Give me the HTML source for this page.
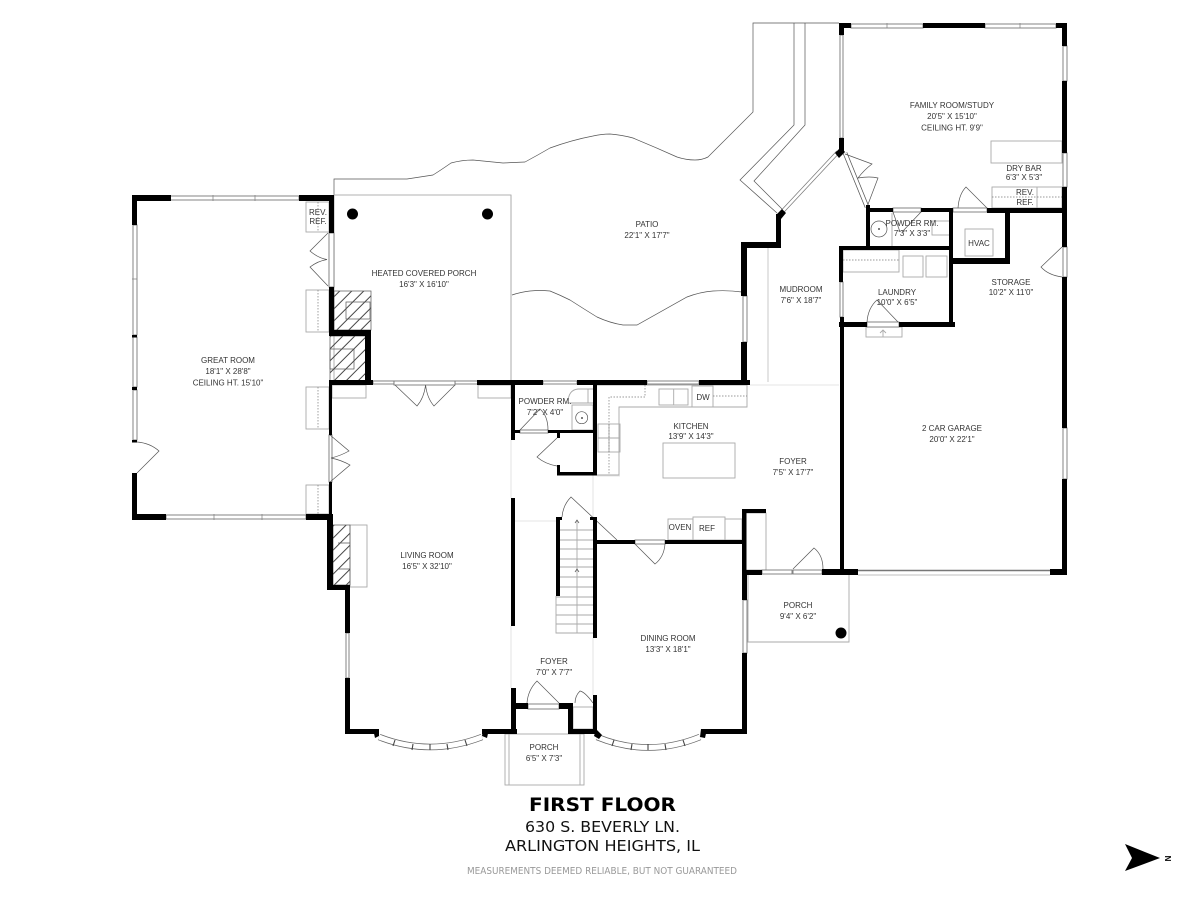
<!DOCTYPE html>
<html lang="en">
<head>
<meta charset="utf-8">
<title>First Floor</title>
<style>
html,body{margin:0;padding:0;background:#fff;width:1200px;height:900px;overflow:hidden}
svg{display:block}
text{font-family:"Liberation Sans",sans-serif;font-size:8px;fill:#333;text-anchor:middle}
.t{font-family:"DejaVu Sans",sans-serif;fill:#111}
.k rect{fill:#000;stroke:none}
.w rect{fill:#fff;stroke:#777;stroke-width:.9}
.w line{stroke:#888;stroke-width:.8}
.n{fill:none;stroke:#555;stroke-width:.7}
.g{fill:none;stroke:#aaa;stroke-width:.9}
.d{fill:none;stroke:#777;stroke-width:.7;stroke-dasharray:1.5 1.5}
.b{fill:#fff;stroke:#aaa;stroke-width:.9}
.l{fill:none;stroke:#ddd;stroke-width:.8}
</style>
</head>
<body>
<svg xmlns="http://www.w3.org/2000/svg" width="1200" height="900" viewBox="0 0 1200 900">
<defs>
<pattern id="h" width="8.500" height="8.500" patternUnits="userSpaceOnUse" patternTransform="rotate(45)">
<line x1="4" y1="0" x2="4" y2="8.500" stroke="#333" stroke-width=".9"/>
</pattern>
</defs>
<rect width="1200" height="900" fill="#fff"/>

<!-- outdoor outlines -->
<path class="n" d="M334 195V179H407L433 175Q441 170 451 163Q462 160 473 160L503 163L525 162Q538 155 550 148Q572 140 593 136Q602 134 610 134Q622 135 633 138Q655 147 677 157Q686 160 695 160Q702 160 708 157L753 112V23H839"/>
<path class="n" d="M512 295Q521 292 530 291Q540 290 550 291Q560 295 570 300Q584 309 597 317Q610 323 623 325H637L687 297Q700 292 713 291Q728 290 742 292"/>
<path class="n" d="M794 23V125L740 180L777 213"/>
<path class="n" d="M805 23V125L754 181L783 210"/>
<rect class="g" x="334" y="195" width="177" height="186"/>
<line class="g" x1="511" y1="195" x2="511" y2="381"/>

<!-- light lines -->
<path class="l" d="M593 475V517M593 638V695M515 521H556M511 440V498M511 626V688M750 385H839M597 476H620"/>
<line x1="768" y1="247" x2="768" y2="382" stroke="#bbb" stroke-width=".8"/>

<!-- cabinets & fixtures -->
<g class="b">
<rect x="306" y="202" width="23" height="30"/>
<rect x="306" y="290" width="23" height="42"/>
<rect x="306" y="387" width="23" height="42"/>
<rect x="306" y="485" width="23" height="29"/>
<rect x="332" y="385" width="34" height="13"/>
<rect x="478" y="385" width="33" height="13"/>
<rect x="350" y="525" width="17" height="62"/>
<rect x="991" y="141" width="71" height="22"/>
<rect x="992" y="187" width="70" height="21"/>
<rect x="663" y="443" width="72" height="35"/>
<rect x="668" y="519" width="25" height="21"/>
<rect x="693" y="517" width="32" height="23"/>
<rect x="725" y="519" width="17" height="21"/>
<rect x="746" y="513" width="20" height="57"/>
<rect x="692" y="386" width="21" height="21"/>
<rect x="843" y="250" width="56" height="22"/>
<rect x="903" y="256" width="20" height="21"/>
<rect x="926" y="256" width="21" height="21"/>
<rect x="965" y="229" width="28" height="27"/>
<rect x="866" y="327" width="36" height="10"/>
<rect x="659" y="389" width="29" height="16"/>
<rect x="572" y="405" width="21" height="25"/>
<rect x="598" y="424" width="22" height="28"/>
<rect x="932" y="221" width="18" height="14"/>
</g>
<path class="g" d="M597 385H747V407H619V475H597"/>
<path class="g" d="M568 403Q568 390 578 389H593M568 403H593M673.7 389V405M588 389V403M1037 187V208M892 213V246M598 438H620M609 424V452M883 337V330M880 333L883 330L886 333"/>
<circle class="n" cx="581.7" cy="417.7" r="6"/>
<circle class="n" cx="879" cy="229" r="8"/>
<circle cx="879" cy="229" r="1" fill="#555"/>
<circle cx="582" cy="418" r="1" fill="#555"/>
<path class="d" d="M318 202V232M318 290V332M318 387V429M318 485V514M645 385V397H609V475M713 396H747M843 260H899M992 197H1062M575 722H593"/>

<!-- fireplaces -->
<g stroke="#555" stroke-width=".7">
<rect x="334" y="291" width="37" height="39" fill="url(#h)"/>
<rect x="346" y="302" width="24" height="17" fill="none"/>
<rect x="330" y="336" width="36" height="45" fill="url(#h)"/>
<rect x="330" y="349" width="24" height="20" fill="none"/>
<rect x="333" y="525" width="17" height="60" fill="url(#h)"/>
<path d="M338 543H350M338 569H350"/>
</g>

<!-- stairs -->
<g class="g">
<path d="M556 596V633H593M577 520V633"/>
<path d="M560 530H593M560 540H593M560 549H593M560 559H593M560 567H593M560 577H593M556 587H593M556 597H593M556 605H593M556 615H593M556 624H593"/>
<path d="M575 523L577 520L579 523M575 572L577 569L579 572" class="n"/>
</g>
<rect class="b" x="573" y="707" width="20" height="22"/>

<!-- porches -->
<rect class="g" x="505" y="734" width="79" height="51"/>
<path class="g" d="M509 734V785M580 734V785"/>
<path class="g" d="M748 575V642H849V575"/>

<!-- windows -->
<g class="w">
<rect x="170" y="196" width="129" height="4"/><line x1="213" y1="195" x2="213" y2="201"/><line x1="255" y1="195" x2="255" y2="201"/>
<rect x="133" y="225" width="4" height="110"/><line x1="132" y1="279" x2="137" y2="279"/>
<rect x="133" y="337" width="4" height="50"/>
<rect x="133" y="390" width="4" height="50"/>
<rect x="166" y="515" width="140" height="4"/><line x1="214" y1="514" x2="214" y2="520"/><line x1="262" y1="514" x2="262" y2="520"/>
<rect x="373" y="381" width="21" height="3"/>
<rect x="455" y="381" width="23" height="3"/>
<rect x="394" y="381" width="61" height="4"/>
<rect x="329" y="233" width="5" height="54"/>
<rect x="329" y="435" width="3" height="47"/>
<rect x="346" y="633" width="3" height="45"/>
<rect x="528" y="704" width="31" height="5"/>
<rect x="520" y="430" width="28" height="3"/>
<rect x="543" y="381" width="34" height="3"/>
<rect x="647" y="381" width="52" height="3"/>
<rect x="635" y="540" width="30" height="4"/>
<rect x="743" y="600" width="4" height="53"/>
<rect x="762" y="570" width="30" height="4"/>
<rect x="793" y="570" width="29" height="4"/>
<rect x="743" y="296" width="4" height="46"/>
<rect x="851" y="24" width="72" height="4"/><line x1="887" y1="23" x2="887" y2="28"/>
<rect x="985" y="24" width="71" height="4"/><line x1="1020" y1="23" x2="1020" y2="28"/>
<rect x="1063" y="46" width="4" height="35"/>
<rect x="1063" y="153" width="4" height="34"/>
<rect x="1063" y="428" width="4" height="51"/>
<rect x="840" y="35" width="3" height="103"/>
<rect x="893" y="208" width="28" height="4"/>
<rect x="953" y="208" width="34" height="4"/>
<rect x="840" y="282" width="3" height="35"/>
<rect x="867" y="322" width="32" height="5"/>
<rect x="1063" y="247" width="4" height="30"/>
</g>
<line x1="858" y1="570.5" x2="1050" y2="570.5" stroke="#777" stroke-width="1.5"/>
<line x1="858" y1="575" x2="1050" y2="575" stroke="#aaa" stroke-width=".8"/>

<!-- diagonal & curved windows -->
<path d="M781 213L838 152" stroke="#777" stroke-width="4" fill="none"/>
<path d="M781 213L838 152" stroke="#fff" stroke-width="2.6" fill="none"/>
<path d="M845 153L867 207" stroke="#555" stroke-width="4.5" fill="none"/>
<path d="M845 153L867 207" stroke="#fff" stroke-width="3" fill="none"/>
<path d="M379 737Q430 757 482 737" stroke="#666" stroke-width="6.500" fill="none"/>
<path d="M379 737Q430 757 482 737" stroke="#fff" stroke-width="5" fill="none"/>
<path d="M597 737Q648 758 700 737" stroke="#666" stroke-width="6.500" fill="none"/>
<path d="M597 737Q648 758 700 737" stroke="#fff" stroke-width="5" fill="none"/>
<path d="M395 740L393 746M413 744L412 750M430 744V750M447 744L448 750M465 740L467 746M614 740L612 746M632 744L631 750M648 744V750M665 744L666 750M683 740L685 746" fill="none" stroke="#444" stroke-width="1.100"/>

<!-- doors -->
<g class="n">
<path d="M328 233L310 251Q318 258 327 259.5Q318 261 310 267L328 286"/>
<path d="M395 385L417 406Q424 398 425.6 385Q427 398 434 406L455 385"/>
<path d="M330 435L349 451Q340 456 331 458Q341 460 350 465L330 482"/>
<path d="M137 473L159 451Q150 443 137 442"/>
<path d="M527 703Q528 690 537 681L559 703"/>
<path d="M575 703Q575 696 580 691Q585 692 593 703"/>
<path d="M635 544L655 564Q664 557 665 544"/>
<path d="M562 517Q563 505 571 497L617 540"/>
<path d="M557 438L537 457Q545 464 557 466"/>
<path d="M520 430L540 409Q548 416 548 430"/>
<path d="M793 569L814 548Q823 555 823 569"/>
<path d="M845 154L872 164Q864 170 858 178Q870 176 878 178L867 207"/>
<path d="M958 208Q959 194 966 187L987 208"/>
<path d="M893 212L900 232M921 212L902 232"/>
<path d="M867 322Q868 308 877 300L898 322"/>
<path d="M1062 247L1041 267Q1048 275 1062 277"/>
</g>

<!-- walls -->
<g class="k">
<rect x="132" y="195" width="39" height="6"/>
<rect x="299" y="195" width="35" height="6"/>
<rect x="132" y="195" width="5" height="30"/>
<rect x="132" y="335" width="5" height="2.5"/>
<rect x="132" y="387" width="5" height="3"/>
<rect x="132" y="440" width="5" height="2.5"/>
<rect x="132" y="473" width="5" height="47"/>
<rect x="132" y="514" width="34" height="6"/>
<rect x="306" y="514" width="27" height="6"/>
<rect x="329" y="195" width="5" height="38"/>
<rect x="329" y="287" width="5" height="49"/>
<rect x="329" y="330" width="42" height="6"/>
<rect x="365" y="330" width="6" height="55"/>
<rect x="329" y="380" width="44" height="5"/>
<rect x="329" y="385" width="3" height="50"/>
<rect x="329" y="482" width="3" height="35"/>
<rect x="327" y="514" width="6" height="76"/>
<rect x="327" y="585" width="23" height="5"/>
<rect x="345" y="585" width="5" height="48"/>
<rect x="345" y="678" width="5" height="56"/>
<rect x="345" y="729" width="34" height="5"/>
<rect x="482" y="729" width="35" height="5"/>
<rect x="511" y="688" width="5" height="46"/>
<rect x="511" y="703" width="17" height="6"/>
<rect x="559" y="703" width="14" height="6"/>
<rect x="568" y="703" width="5" height="31"/>
<rect x="568" y="729" width="29" height="5"/>
<rect x="593" y="695" width="4" height="39"/>
<rect x="701" y="729" width="46" height="5"/>
<rect x="742" y="653" width="5" height="81"/>
<rect x="742" y="570" width="5" height="30"/>
<rect x="511" y="498" width="4" height="128"/>
<rect x="511" y="380" width="4" height="60"/>
<rect x="477" y="380" width="66" height="5"/>
<rect x="577" y="380" width="70" height="5"/>
<rect x="699" y="380" width="51" height="5"/>
<rect x="593" y="380" width="4" height="95"/>
<rect x="557" y="472" width="40" height="3.5"/>
<rect x="511" y="430" width="9" height="3"/>
<rect x="548" y="430" width="49" height="3"/>
<rect x="557" y="431" width="3" height="7"/>
<rect x="557" y="465" width="3" height="10"/>
<rect x="556" y="517" width="4" height="79"/>
<rect x="593" y="517" width="4" height="121"/>
<rect x="556" y="517" width="6" height="3"/>
<rect x="590" y="517" width="7" height="3"/>
<rect x="597" y="540" width="38" height="4"/>
<rect x="665" y="540" width="77" height="4"/>
<rect x="742" y="509" width="4.500" height="66"/>
<rect x="742" y="509" width="24" height="4"/>
<rect x="742" y="570" width="20" height="5"/>
<rect x="822" y="569" width="36" height="6"/>
<rect x="1050" y="569" width="17" height="6"/>
<rect x="840" y="317" width="4" height="258"/>
<rect x="1062" y="23" width="5" height="23"/>
<rect x="1062" y="81" width="5" height="72"/>
<rect x="1062" y="187" width="5" height="60"/>
<rect x="1062" y="277" width="5" height="151"/>
<rect x="1062" y="479" width="5" height="96"/>
<rect x="839" y="23" width="12" height="5"/>
<rect x="923" y="23" width="62" height="5"/>
<rect x="1056" y="23" width="11" height="5"/>
<rect x="839" y="23" width="5" height="12"/>
<rect x="839" y="138" width="5" height="14"/>
<rect x="866" y="208" width="27" height="4"/>
<rect x="921" y="208" width="32" height="4"/>
<rect x="987" y="208" width="75" height="5"/>
<rect x="866" y="205" width="4" height="42"/>
<rect x="839" y="246" width="113" height="4"/>
<rect x="839" y="246" width="4" height="36"/>
<rect x="949" y="210" width="4" height="116"/>
<rect x="839" y="322" width="28" height="5"/>
<rect x="899" y="322" width="56" height="5"/>
<rect x="1005" y="210" width="5" height="54"/>
<rect x="953" y="258" width="57" height="6"/>
<rect x="741" y="242" width="6" height="54"/>
<rect x="741" y="342" width="6" height="41"/>
<rect x="741" y="242" width="40" height="6"/>
<rect x="776" y="214" width="5" height="33"/>
</g>
<path d="M776 215L782 209L786 213L781 219ZM835 153L841 147L845 152L839 158Z" fill="#000"/>
<path d="M373 729L379 729L379 736L375 738ZM483 729L489 729L487 738L482 736ZM596 729L602 735L599 739L594 736ZM701 729L707 729L705 738L700 737Z" fill="#000"/>

<!-- columns -->
<circle cx="352.500" cy="214" r="5.500" fill="#000"/>
<circle cx="487.500" cy="214" r="5.500" fill="#000"/>
<circle cx="841" cy="633" r="5.500" fill="#000"/>

<!-- labels -->
<text x="228" y="363">GREAT ROOM</text><text x="228" y="374">18'1" X 28'8"</text><text x="228" y="385.500">CEILING HT. 15'10"</text>
<text x="424" y="276">HEATED COVERED PORCH</text><text x="424" y="287">16'3" X 16'10"</text>
<text x="647" y="227">PATIO</text><text x="647" y="238">22'1" X 17'7"</text>
<text x="952" y="108">FAMILY ROOM/STUDY</text><text x="952" y="119">20'5" X 15'10"</text><text x="952" y="130.500">CEILING HT. 9'9"</text>
<text x="1024" y="171">DRY BAR</text><text x="1024" y="180">6'3" X 5'3"</text>
<text x="1025" y="195">REV.</text><text x="1025" y="205">REF.</text>
<text x="318" y="215">REV.</text><text x="318" y="224">REF.</text>
<text x="912" y="226">POWDER RM.</text><text x="912" y="236">7'3" X 3'3"</text>
<text x="979" y="246">HVAC</text>
<text x="801" y="292">MUDROOM</text><text x="801" y="303">7'6" X 18'7"</text>
<text x="897" y="295">LAUNDRY</text><text x="897" y="305">10'0" X 6'5"</text>
<text x="1011" y="285">STORAGE</text><text x="1011" y="295">10'2" X 11'0"</text>
<text x="952" y="431">2 CAR GARAGE</text><text x="952" y="442">20'0" X 22'1"</text>
<text x="691" y="429">KITCHEN</text><text x="691" y="439">13'9" X 14'3"</text>
<text x="793" y="464">FOYER</text><text x="793" y="475">7'5" X 17'7"</text>
<text x="545" y="404">POWDER RM.</text><text x="545" y="415">7'2" X 4'0"</text>
<text x="680" y="530">OVEN</text><text x="707" y="531">REF</text><text x="703" y="400">DW</text>
<text x="427" y="558">LIVING ROOM</text><text x="427" y="569">16'5" X 32'10"</text>
<text x="668" y="641">DINING ROOM</text><text x="668" y="652">13'3" X 18'1"</text>
<text x="554" y="664">FOYER</text><text x="554" y="675">7'0" X 7'7"</text>
<text x="798" y="608">PORCH</text><text x="798" y="619">9'4" X 6'2"</text>
<text x="544" y="750">PORCH</text><text x="544" y="761">6'5" X 7'3"</text>

<!-- title -->
<text class="t" x="602.500" y="811" style="font-size:19px;font-weight:bold;fill:#000" textLength="147" lengthAdjust="spacingAndGlyphs">FIRST FLOOR</text>
<text class="t" x="602.500" y="832" style="font-size:15.500px" textLength="155" lengthAdjust="spacingAndGlyphs">630 S. BEVERLY LN.</text>
<text class="t" x="602.500" y="851" style="font-size:15.500px" textLength="195" lengthAdjust="spacingAndGlyphs">ARLINGTON HEIGHTS, IL</text>
<text class="t" x="602" y="874" style="font-size:9.500px;fill:#999" textLength="270" lengthAdjust="spacingAndGlyphs">MEASUREMENTS DEEMED RELIABLE, BUT NOT GUARANTEED</text>

<!-- north arrow -->
<path d="M1125 844L1160 858L1125 871L1132 858Z" fill="#000"/>
<text transform="translate(1165 858.500) rotate(90)" style="font-size:8px;fill:#000;font-weight:bold" x="0" y="0">N</text>
</svg>
</body>
</html>
